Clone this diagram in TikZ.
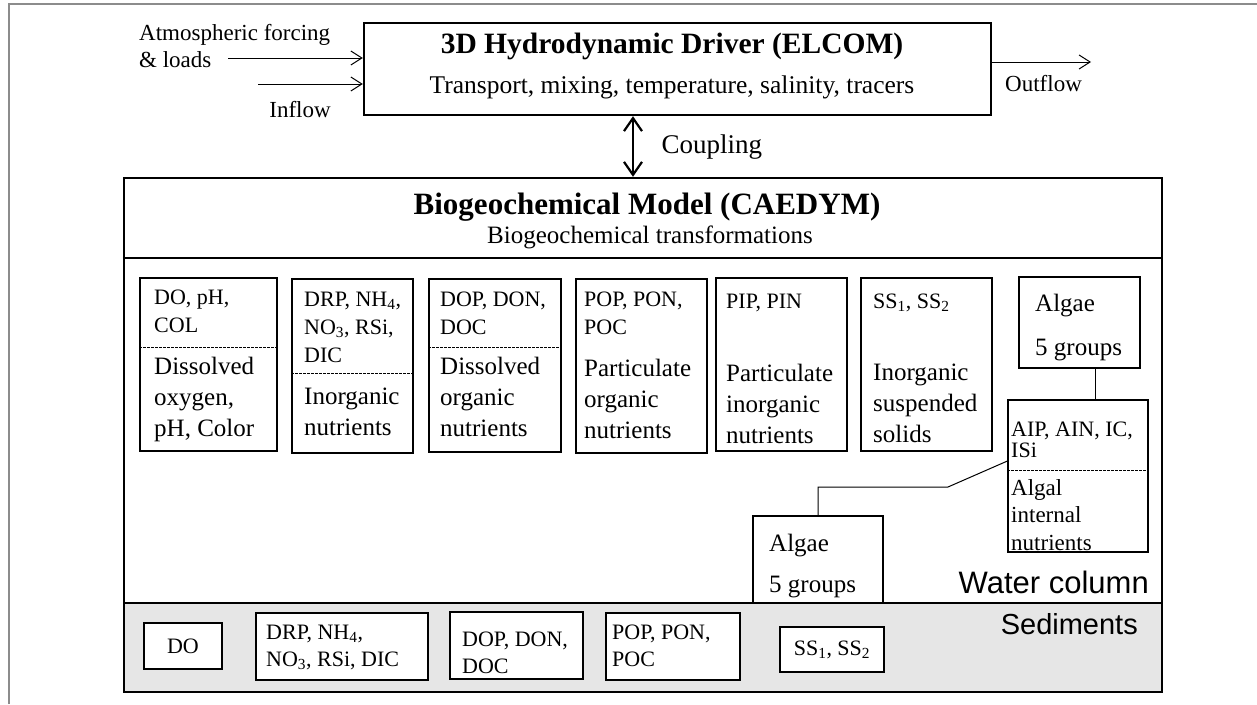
\documentclass[tikz,border=0pt]{standalone}
\usepackage{fontspec}
\setmainfont{Liberation Serif}
\setsansfont{Liberation Sans}
\usetikzlibrary{fit,arrows.meta}

\definecolor{sedgray}{HTML}{E6E6E6}
\definecolor{framegray}{HTML}{8C8C8C}

\tikzset{x=1pt, y=-1pt,
    model/.style={draw, line width=2.4pt, inner sep=0pt},
    pool/.style={draw, line width=1.2pt, inner sep=0pt},
    divider/.style={line width=0.7pt, dash pattern=on 2.5pt off 1.5pt},
    flow/.style={-{Straight Barb[length=11pt,width=14pt]}, line width=1pt},
    couple/.style={{Straight Barb[length=13pt,width=18pt]}-{Straight Barb[length=13pt,width=18pt]}, line width=2.2pt},
    toptxt/.style={anchor=north west, inner sep=0pt, align=left, font=\fontsize{22}{28}\selectfont},
    bottxt/.style={anchor=north west, inner sep=0pt, align=left, font=\fontsize{25}{31}\selectfont},
    sedtxt/.style={inner sep=0pt, align=left, font=\fontsize{22}{27}\selectfont},
    label/.style={inner sep=0pt, align=left, font=\fontsize{23}{27}\selectfont},
    zone/.style={inner sep=0pt, font=\sffamily\fontsize{29}{32}\selectfont}
}

\begin{document}
\begin{tikzpicture}
    \useasboundingbox (0,0) rectangle (1257,704);
    \draw[framegray, line width=1.3pt] (9,704) -- (9,4) -- (1257,4);

    % hydrodynamic driver
    \node[model, fit={(364,23) (991,115)}] (elcom) {};
    \node[font=\bfseries\fontsize{29.5}{33}\selectfont] (elcomT) at (672,46) {3D Hydrodynamic Driver (ELCOM)};
    \node[font=\fontsize{25.5}{28}\selectfont] (elcomS) at (672,87) {Transport, mixing, temperature, salinity, tracers};

    \node[label, anchor=north west] (atm) at (139,24) {Atmospheric forcing\\\& loads};
    \coordinate (atmin) at (228,58);
    \draw[flow] (atmin) -- (atmin -| elcom.west);
    \coordinate (inflowin) at (258,84);
    \draw[flow] (inflowin) -- (inflowin -| elcom.west);
    \node[label] (inflow) at (300,110) {Inflow};
    \coordinate (outend) at (1091,62);
    \draw[flow] (outend -| elcom.east) -- (outend);
    \node[label, anchor=west] (outflow) at (1005,84) {Outflow};

    % biogeochemical model
    \node[model, fit={(124,178) (1162,692)}] (caedym) {};
    \draw[line width=2.4pt] (caedym.west |- 0,258) -- (caedym.east |- 0,258);
    \node[font=\bfseries\fontsize{31}{34}\selectfont] (caedymT) at (647,207) {Biogeochemical Model (CAEDYM)};
    \node[font=\fontsize{25}{28}\selectfont] (caedymS) at (650,237) {Biogeochemical transformations};

    \coordinate (cpl) at (633,0);
    \draw[couple] (cpl |- elcom.south) -- (cpl |- caedym.north);
    \node[font=\fontsize{27}{30}\selectfont, anchor=west] (coupling) at (658,147) {Coupling};

    % water column pools
    \node[pool, fit={(140,278) (277,451)}] (dox) {};
    \node[toptxt] (doxA) at (154,290) {DO, pH,\\COL};
    \draw[divider] (dox.west |- 0,347) -- (dox.east |- 0,347);
    \node[bottxt] (doxB) at (154,357) {Dissolved\\oxygen,\\pH, Color};

    \node[pool, fit={(292,279) (413,453)}] (inorg) {};
    \node[toptxt] (inorgA) at (304,292) {DRP, NH\textsubscript{4},\\NO\textsubscript{3}, RSi,\\DIC};
    \draw[divider] (inorg.west |- 0,373) -- (inorg.east |- 0,373);
    \node[bottxt] (inorgB) at (304,388) {Inorganic\\nutrients};

    \node[pool, fit={(429,279) (561,452)}] (dorg) {};
    \node[toptxt] (dorgA) at (440,292) {DOP, DON,\\DOC};
    \draw[divider] (dorg.west |- 0,347) -- (dorg.east |- 0,347);
    \node[bottxt] (dorgB) at (440,357) {Dissolved\\organic\\nutrients};

    \node[pool, fit={(576,279) (707,453)}] (porg) {};
    \node[toptxt] (porgA) at (584,292) {POP, PON,\\POC};
    \node[bottxt] (porgB) at (584,359) {Particulate\\organic\\nutrients};

    \node[pool, fit={(716,278) (847,451)}] (pinorg) {};
    \node[toptxt] (pinorgA) at (726,294) {PIP, PIN};
    \node[bottxt] (pinorgB) at (726,364) {Particulate\\inorganic\\nutrients};

    \node[pool, fit={(861,278) (992,451)}] (solids) {};
    \node[toptxt] (solidsA) at (873,294) {SS\textsubscript{1}, SS\textsubscript{2}};
    \node[bottxt] (solidsB) at (873,364) {Inorganic\\suspended\\solids};

    % algae
    \node[pool, fit={(1019,277) (1140,368)}] (algaeA) {};
    \node[bottxt, font=\fontsize{25}{44}\selectfont] (algaeAT) at (1035,294) {Algae\\5 groups};

    \node[pool, fit={(1008,400) (1148,552)}] (algint) {};
    \node[toptxt, font=\fontsize{22}{21}\selectfont] (algintA) at (1011,422) {AIP, AIN, IC,\\ISi};
    \draw[divider] (algint.west |- 0,470) -- (algint.east |- 0,470);
    \node[toptxt, font=\fontsize{23}{27.5}\selectfont] (algintB) at (1011,479) {Algal\\internal\\nutrients};
    \draw[line width=1.2pt] ([xshift=16pt]algaeA.south) -- ([xshift=16pt]algaeA.south |- algint.north);

    \node[pool, fit={(753,516) (883,603)}] (algaeB) {};
    \node[bottxt, font=\fontsize{25}{41}\selectfont] (algaeBT) at (769,534) {Algae\\5 groups};
    \coordinate (kink) at (948,487);
    \draw[line width=1pt] (algaeB.north) |- (kink) -- ([yshift=15pt]algint.west);

    \node[zone, anchor=east, font=\sffamily\fontsize{31}{34}\selectfont] (water) at (1149,582) {Water column};

    % sediments
    \node[draw, fill=sedgray, line width=2.6pt, inner sep=0pt, fit={(124,603) (1162,692)}] (sed) {};
    \node[zone, anchor=east] (sedlab) at (1138,624) {Sediments};

    \node[pool, fill=white, fit={(144,623) (222,669)}] (sdo) {};
    \node[sedtxt] (sdoT) at (sdo) {DO};
    \node[pool, fill=white, fit={(256,613) (428,680)}] (sinorg) {};
    \node[sedtxt, anchor=north west] (sinorgT) at (266,625) {DRP, NH\textsubscript{4},\\NO\textsubscript{3}, RSi, DIC};
    \node[pool, fill=white, fit={(450,612) (583,679)}] (sdorg) {};
    \node[sedtxt, anchor=north west] (sdorgT) at (462,632) {DOP, DON,\\DOC};
    \node[pool, fill=white, fit={(606,613) (740,680)}] (sporg) {};
    \node[sedtxt, anchor=north west] (sporgT) at (612,625) {POP, PON,\\POC};
    \node[pool, fill=white, fit={(780,627) (884,672)}] (ssolids) {};
    \node[sedtxt] (ssolidsT) at (ssolids) {SS\textsubscript{1}, SS\textsubscript{2}};
\end{tikzpicture}
\end{document}
